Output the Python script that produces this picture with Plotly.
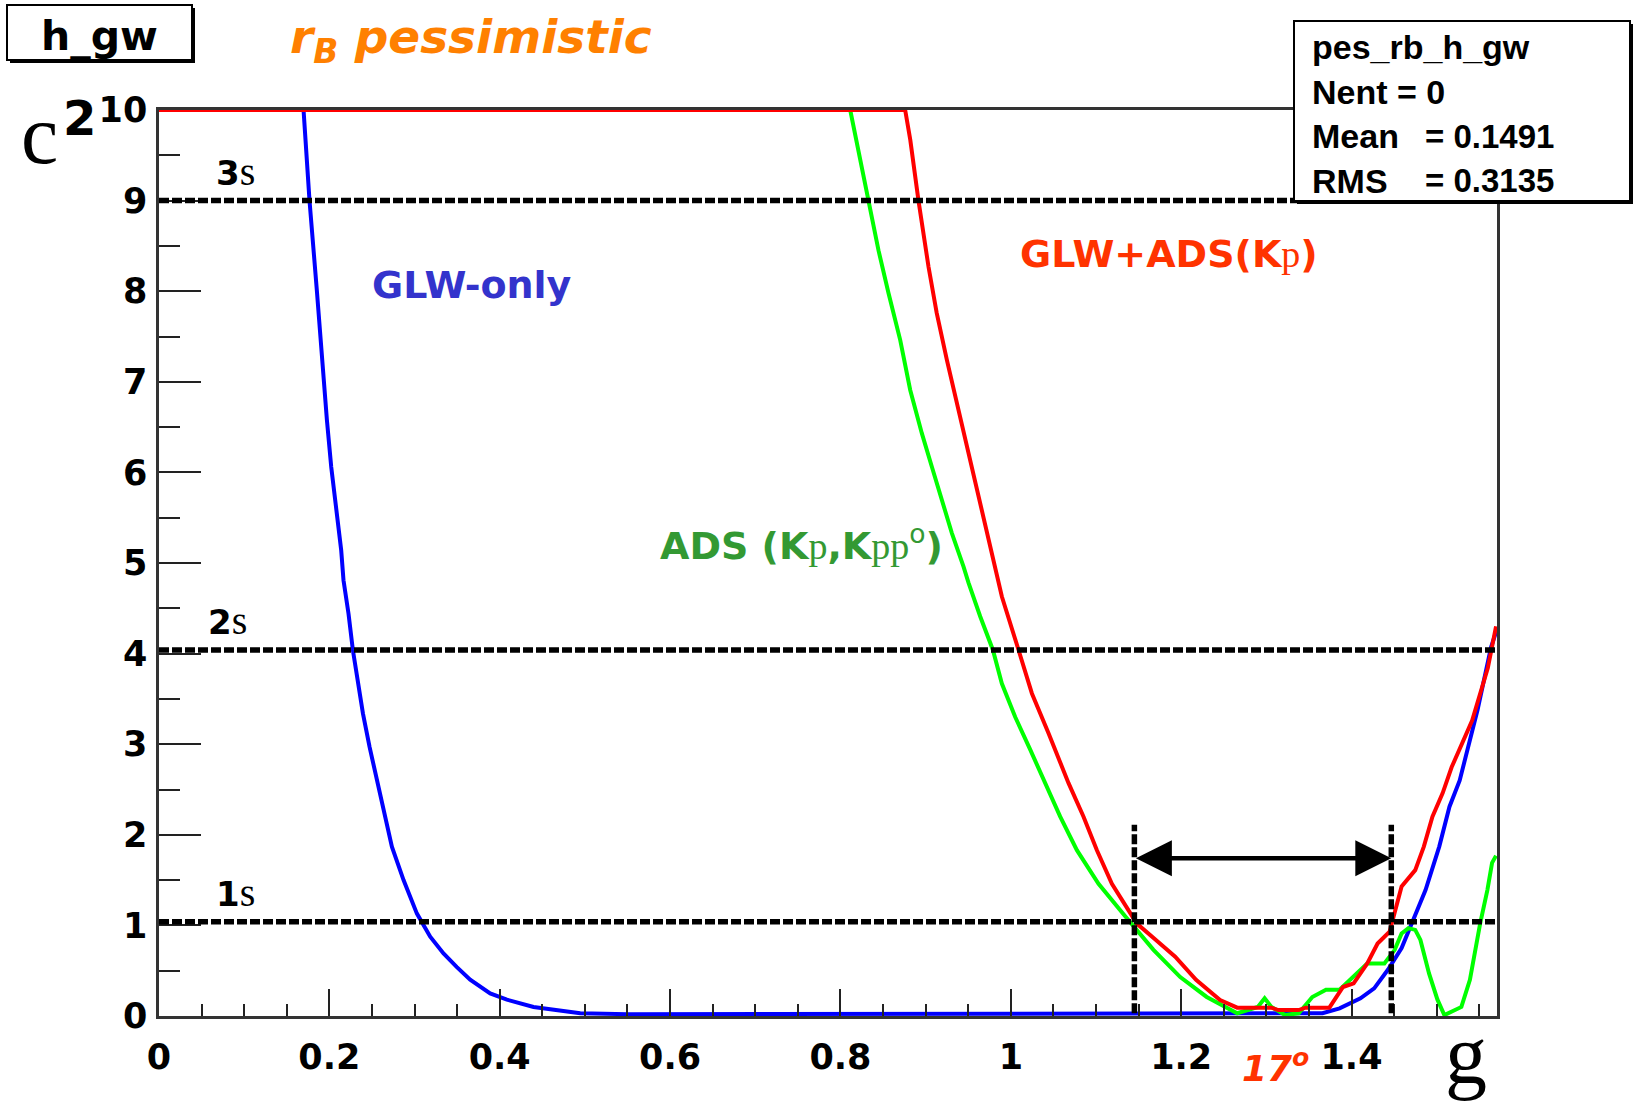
import plotly.graph_objects as go

# ---------------- data ----------------
glw_gamma = [0.1697, 0.1767, 0.1853, 0.1893, 0.1920, 0.1971, 0.2022, 0.2088, 0.2139, 0.2166,
             0.2225, 0.2276, 0.2331, 0.2394, 0.2472, 0.2558, 0.2636, 0.2734, 0.2871, 0.3028,
             0.3184, 0.3340, 0.3497, 0.3653, 0.3888, 0.4084, 0.4397, 0.4630, 0.4945, 0.5500,
             0.6500, 0.7800, 0.9000, 1.0000, 1.1000, 1.2000, 1.3000, 1.3660, 1.3860, 1.4105,
             1.4266, 1.4427, 1.4588, 1.4708, 1.4869, 1.5030, 1.5150, 1.5270, 1.5480, 1.5638,
             1.5697]
glw_chi2 = [10.0, 9.0, 8.01, 7.53, 7.09, 6.58, 6.06, 5.55, 5.14, 4.81,
            4.44, 4.04, 3.71, 3.34, 2.97, 2.60, 2.24, 1.87, 1.50, 1.13,
            0.875, 0.69, 0.54, 0.40, 0.25, 0.18, 0.10, 0.066, 0.03, 0.02,
            0.02, 0.02, 0.02, 0.02, 0.02, 0.02, 0.02, 0.03, 0.085, 0.195,
            0.305, 0.51, 0.75, 1.02, 1.39, 1.87, 2.31, 2.60, 3.38, 4.07,
            4.24]

ads_gamma = [0.8115, 0.8232, 0.8330, 0.8447, 0.8564, 0.8702, 0.8819, 0.8956, 0.9074, 0.9191,
             0.9308, 0.9445, 0.9504, 0.9641, 0.9790, 0.9895, 1.0052, 1.0228, 1.0404, 1.0580,
             1.0776, 1.1030, 1.1343, 1.1675, 1.1989, 1.2300, 1.2658, 1.2900, 1.2980, 1.3060,
             1.3220, 1.3380, 1.3540, 1.3700, 1.3860, 1.4025, 1.4185, 1.4386, 1.4507, 1.4588,
             1.4668, 1.4748, 1.4809, 1.4910, 1.5009, 1.5090, 1.5230, 1.5290, 1.5390, 1.5510,
             1.5595, 1.5650, 1.5697]
ads_chi2 = [10.0, 9.45, 9.01, 8.45, 7.98, 7.46, 6.91, 6.43, 6.06, 5.70,
            5.33, 4.96, 4.78, 4.41, 4.04, 3.67, 3.30, 2.94, 2.57, 2.20,
            1.83, 1.46, 1.10, 0.73, 0.43, 0.21, 0.03, 0.10, 0.195, 0.10,
            0.01, 0.03, 0.21, 0.29, 0.29, 0.43, 0.58, 0.58, 0.73, 0.91,
            0.97, 0.95, 0.84, 0.47, 0.18, 0.01, 0.066, 0.10, 0.40, 1.02,
            1.39, 1.69, 1.77]

comb_gamma = [0.0, 0.876, 0.882, 0.8916, 0.9034, 0.913, 0.925, 0.9406, 0.9562, 0.972,
              0.9895, 1.0091, 1.0248, 1.0443, 1.0678, 1.0854, 1.1011, 1.1187, 1.1480, 1.169,
              1.193, 1.2175, 1.2457, 1.2658, 1.306, 1.314, 1.338, 1.346, 1.374, 1.390,
              1.4025, 1.4185, 1.4306, 1.4447, 1.4507, 1.4588, 1.4748, 1.4849, 1.495, 1.507,
              1.5175, 1.5416, 1.56, 1.5697]
comb_chi2 = [10.0, 10.0, 9.67, 9.0, 8.27, 7.76, 7.24, 6.61, 5.95, 5.33,
             4.63, 4.04, 3.56, 3.12, 2.57, 2.20, 1.83, 1.46, 1.02, 0.85,
             0.655, 0.40, 0.177, 0.092, 0.092, 0.066, 0.066, 0.092, 0.092, 0.32,
             0.36, 0.58, 0.80, 0.93, 1.13, 1.43, 1.61, 1.87, 2.20, 2.46,
             2.745, 3.26, 3.84, 4.30]

sigma_levels = [1.04, 4.04, 9.0]
sigma_names = ["1", "2", "3"]
sigma_label_gamma = [0.0895, 0.080, 0.0895]
sigma_label_chi2 = [1.36, 4.36, 9.32]

interval_bounds = [1.1451, 1.4467]
interval_span = [0.03, 2.11]
arrow_chi2 = 1.74

x_tick_vals = [0, 0.2, 0.4, 0.6, 0.8, 1.0, 1.2, 1.4]
x_tick_text = ["0", "0.2", "0.4", "0.6", "0.8", "1", "1.2", "1.4"]
y_tick_vals = [0, 1, 2, 3, 4, 5, 6, 7, 8, 9, 10]
y_tick_text = ["0", "1", "2", "3", "4", "5", "6", "7", "8", "9", "10"]
x_range = [0, 1.5708]
y_range = [0, 10]

hist_title = "h_gw"
stats_name = "pes_rb_h_gw"
stats_keys = ["Nent = 0", "Mean", "RMS"]
stats_vals = ["", "= 0.1491", "= 0.3135"]

# ---------------- layout geometry ----------------
W, H = 1637, 1101
L, R, T, B = 159, 140, 110, 85
PW, PH = W - L - R, H - T - B


def px(xp):
    return (xp - L) / PW


def py(yp):
    return (T + PH - yp) / PH


SANS = "DejaVu Sans"
ARIAL = "Liberation Sans"
SERIF = "Liberation Serif"

fig = go.Figure()
fig.add_trace(go.Scatter(x=glw_gamma, y=glw_chi2, mode="lines",
                         line=dict(color="#0000FF", width=4), showlegend=False))
fig.add_trace(go.Scatter(x=ads_gamma, y=ads_chi2, mode="lines",
                         line=dict(color="#00FF00", width=4), showlegend=False))
fig.add_trace(go.Scatter(x=comb_gamma, y=comb_chi2, mode="lines",
                         line=dict(color="#FF0000", width=4), showlegend=False))

shapes = []
dash = "10px,3px"
for lvl in sigma_levels:
    shapes.append(dict(type="line", xref="x", yref="y", x0=x_range[0], x1=x_range[1],
                       y0=lvl, y1=lvl, line=dict(color="black", width=5.5, dash=dash)))
for xb in interval_bounds:
    shapes.append(dict(type="line", xref="x", yref="y", x0=xb, x1=xb,
                       y0=interval_span[0], y1=interval_span[1],
                       line=dict(color="black", width=5.5, dash=dash)))

# title box (with shadow)
shapes.append(dict(type="rect", xref="paper", yref="paper", x0=px(10), x1=px(195),
                   y0=py(63), y1=py(8), fillcolor="black", line=dict(width=0), layer="above"))
shapes.append(dict(type="rect", xref="paper", yref="paper", x0=px(7), x1=px(192),
                   y0=py(60), y1=py(5), fillcolor="white", line=dict(color="black", width=2),
                   layer="above"))
# stats box (with shadow)
shapes.append(dict(type="rect", xref="paper", yref="paper", x0=px(1297), x1=px(1633),
                   y0=py(204), y1=py(24), fillcolor="black", line=dict(width=0), layer="above"))
shapes.append(dict(type="rect", xref="paper", yref="paper", x0=px(1294), x1=px(1630),
                   y0=py(201), y1=py(21), fillcolor="white", line=dict(color="black", width=2),
                   layer="above"))

ann = []
ann.append(dict(xref="paper", yref="paper", x=px(99), y=py(36), text=hist_title,
                showarrow=False, font=dict(family=SANS, size=41, color="black", weight="bold"),
                xanchor="center", yanchor="middle"))
ann.append(dict(xref="paper", yref="paper", x=px(1310), y=py(47), text=stats_name,
                showarrow=False, font=dict(family=ARIAL, size=34, color="black", weight="bold"),
                xanchor="left", yanchor="middle"))
for i, (k, v) in enumerate(zip(stats_keys, stats_vals)):
    yy = py(91.5 + 44.5 * i)
    ann.append(dict(xref="paper", yref="paper", x=px(1310), y=yy, text=k, showarrow=False,
                    font=dict(family=ARIAL, size=34, color="black", weight="bold"),
                    xanchor="left", yanchor="middle"))
    if v:
        ann.append(dict(xref="paper", yref="paper", x=px(1556), y=yy, text=v, showarrow=False,
                        font=dict(family=ARIAL, size=33, color="black", weight="bold"),
                        xanchor="right", yanchor="middle"))

ann.append(dict(xref="paper", yref="paper", x=px(471), y=py(40),
                text="<b><i>r<sub>B</sub> pessimistic</i></b>", showarrow=False,
                font=dict(family=SANS, size=47, color="#FF8000"), xanchor="center", yanchor="middle"))

# axis titles: chi^2 and gamma (Symbol font rendered as latin letters)
ann.append(dict(xref="paper", yref="paper", x=px(39), y=py(134), text="c", showarrow=False,
                font=dict(family=SERIF, size=84, color="black"), xanchor="center", yanchor="middle"))
ann.append(dict(xref="paper", yref="paper", x=px(79), y=py(118), text="<b>2</b>", showarrow=False,
                font=dict(family=SANS, size=48, color="black"), xanchor="center", yanchor="middle"))
ann.append(dict(xref="paper", yref="paper", x=px(1466), y=py(1054), text="g", showarrow=False,
                font=dict(family=SERIF, size=84, color="black"), xanchor="center", yanchor="middle"))

for nm, gx, gy in zip(sigma_names, sigma_label_gamma, sigma_label_chi2):
    ann.append(dict(xref="x", yref="y", x=gx, y=gy,
                    text=f"<b>{nm}</b><span style='font-family:{SERIF};font-weight:normal;font-size:40px'>s</span>",
                    showarrow=False, font=dict(family=SANS, size=34, color="black"),
                    xanchor="center", yanchor="middle"))

serif_span = f"<span style='font-family:{SERIF};font-weight:normal'>p</span>"
ann.append(dict(xref="x", yref="y", x=0.368, y=8.07, text="<b>GLW-only</b>", showarrow=False,
                font=dict(family=SANS, size=38, color="#3333CC"), xanchor="center", yanchor="middle"))
ann.append(dict(xref="x", yref="y", x=1.1861, y=8.41,
                text=f"<b>GLW+ADS(K</b>{serif_span}<b>)</b>", showarrow=False,
                font=dict(family=SANS, size=38, color="#FF3300"), xanchor="center", yanchor="middle"))
ann.append(dict(xref="x", yref="y", x=0.7537, y=5.22,
                text=(f"<b>ADS (K</b>{serif_span}<b>,K</b>"
                      f"<span style='font-family:{SERIF};font-weight:normal'>pp</span>"
                      f"<sup>o</sup><b>)</b>"),
                showarrow=False, font=dict(family=SANS, size=38, color="#339933"),
                xanchor="center", yanchor="middle"))
ann.append(dict(xref="paper", yref="paper", x=px(1275), y=py(1066),
                text="<b><i>17<sup>o</sup></i></b>",
                showarrow=False, font=dict(family=SANS, size=36, color="#FF3300"),
                xanchor="center", yanchor="middle"))

# interval arrow
ann.append(dict(xref="x", yref="y", axref="x", ayref="y", x=interval_bounds[1], y=arrow_chi2,
                ax=interval_bounds[0], ay=arrow_chi2, text="", showarrow=True,
                arrowhead=2, startarrowhead=2, arrowside="end+start", arrowsize=1.6,
                startarrowsize=1.6, arrowwidth=4.5, arrowcolor="black", standoff=0,
                startstandoff=0))

axis_common = dict(showline=True, linecolor="#333333", linewidth=2.5, mirror=True,
                   showgrid=False, zeroline=False, ticks="inside", tickcolor="#222222",
                   tickwidth=2, tickfont=dict(family=SANS, size=35, color="black", weight="bold"))

fig.update_layout(
    width=W, height=H, margin=dict(l=L, r=R, t=T, b=B, autoexpand=False),
    paper_bgcolor="white", plot_bgcolor="white", showlegend=False,
    xaxis=dict(range=x_range, tickmode="array", tickvals=x_tick_vals, ticktext=x_tick_text,
               ticklen=27, ticklabelstandoff=8,
               minor=dict(dtick=0.05, ticklen=12, tickwidth=2, tickcolor="#222222", ticks="inside"),
               **axis_common),
    yaxis=dict(range=y_range, tickmode="array", tickvals=y_tick_vals, ticktext=y_tick_text,
               ticklen=42, ticklabelstandoff=2,
               minor=dict(dtick=0.5, ticklen=21, tickwidth=2, tickcolor="#222222", ticks="inside"),
               **axis_common),
    shapes=shapes, annotations=ann,
)

fig.write_html("out.html")
